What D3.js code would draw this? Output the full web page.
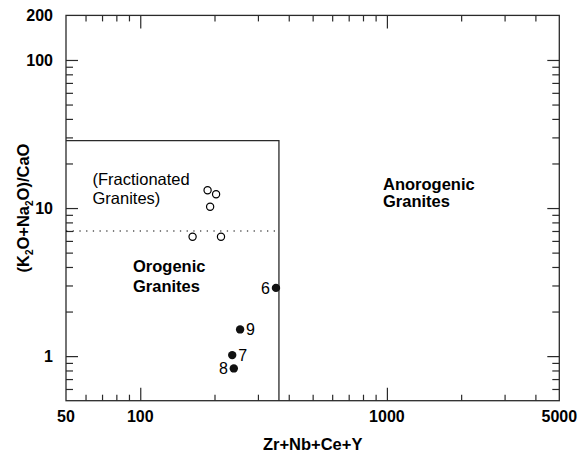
<!DOCTYPE html>
<html>
<head>
<meta charset="utf-8">
<script src="https://cdn.jsdelivr.net/npm/d3@7"></script>
<style>
  html, body { margin: 0; padding: 0; background: #fff; }
  svg text { font-family: "Liberation Sans", Arial, Helvetica, sans-serif; fill: #000; }
</style>
</head>
<body>
<svg id="chart" width="581" height="453"></svg>
<script>
// ---- data ----
const fractionatedX = [187.5, 203, 192, 163, 212.5];
const fractionatedY = [13.2, 12.4, 10.2, 6.4, 6.4];
const sampleX = [355, 254, 236, 239.5];
const sampleY = [2.89, 1.515, 1.016, 0.826];
const sampleLabels = ["6", "9", "7", "8"];
const xTickLabels = [50, 100, 1000, 5000];
const yTickLabels = [1, 10, 100, 200];
const xMajorTicks = [100, 1000];
const xMinorTicks = [60, 70, 80, 90, 200, 300, 400, 500, 600, 700, 800, 900, 2000, 3000, 4000];
const yMajorTicks = [1, 10, 100];
const yMinorTicks = [0.6, 0.7, 0.8, 0.9, 2, 3, 4, 5, 6, 7, 8, 9, 20, 30, 40, 50, 60, 70, 80, 90];
const orogenicBoundaryX = 365;   // Zr+Nb+Ce+Y
const orogenicBoundaryY = 28.5;  // (K2O+Na2O)/CaO
const fractionatedBoundaryY = 7.0;

// ---- layout ----
const svg = d3.select("#chart");
const L = 66, R = 559.3, T = 15.4, B = 400.7;
const x = d3.scaleLog().domain([50, 5000]).range([L, R]);
const y = d3.scaleLog().domain([0.5, 200]).range([B, T]);
const lineColor = "#2a2a2a";

// axes via d3 axis generators (ticks inward)
function addAxis(gen, transform) {
  const g = svg.append("g").attr("transform", transform).call(gen);
  g.select(".domain").remove();
  g.selectAll(".tick line").attr("stroke", lineColor).attr("stroke-width", 1.2);
  g.selectAll(".tick text").remove();
  return g;
}
addAxis(d3.axisBottom(x).tickValues(xMinorTicks).tickSize(-6), `translate(0,${B})`);
addAxis(d3.axisBottom(x).tickValues(xMajorTicks).tickSize(-13), `translate(0,${B})`);
addAxis(d3.axisTop(x).tickValues(xMinorTicks).tickSize(-6), `translate(0,${T})`);
addAxis(d3.axisTop(x).tickValues(xMajorTicks).tickSize(-13), `translate(0,${T})`);
addAxis(d3.axisLeft(y).tickValues(yMinorTicks).tickSize(-7), `translate(${L},0)`);
addAxis(d3.axisLeft(y).tickValues(yMajorTicks).tickSize(-12), `translate(${L},0)`);
addAxis(d3.axisRight(y).tickValues(yMinorTicks).tickSize(-7), `translate(${R},0)`);
addAxis(d3.axisRight(y).tickValues(yMajorTicks).tickSize(-12), `translate(${R},0)`);

// frame
svg.append("rect")
  .attr("x", L).attr("y", T).attr("width", R - L).attr("height", B - T)
  .attr("fill", "none").attr("stroke", lineColor).attr("stroke-width", 1.3);

// tick labels
svg.append("g").selectAll("text").data(xTickLabels).join("text")
  .attr("x", d => x(d)).attr("y", 422)
  .attr("text-anchor", "middle").attr("font-size", 16).attr("font-weight", "bold")
  .text(d => d);
svg.append("g").selectAll("text").data(yTickLabels).join("text")
  .attr("x", 53).attr("y", d => y(d) + 5.8)
  .attr("text-anchor", "end").attr("font-size", 16).attr("font-weight", "bold")
  .text(d => d);

// axis titles
svg.append("text")
  .attr("x", (L + R) / 2).attr("y", 450)
  .attr("text-anchor", "middle").attr("font-size", 16.5).attr("font-weight", "bold")
  .text("Zr+Nb+Ce+Y");
const yt = svg.append("text")
  .attr("transform", `translate(29,${(T + B) / 2}) rotate(-90)`)
  .attr("text-anchor", "middle").attr("font-size", 16.5).attr("font-weight", "bold");
yt.append("tspan").text("(K");
yt.append("tspan").attr("font-size", 10).attr("dy", 4).text("2");
yt.append("tspan").attr("dy", -4).text("O+Na");
yt.append("tspan").attr("font-size", 10).attr("dy", 4).text("2");
yt.append("tspan").attr("dy", -4).text("O)/CaO");

// field boundaries
svg.append("path")
  .attr("d", d3.line()([[x(50), y(orogenicBoundaryY)], [x(orogenicBoundaryX), y(orogenicBoundaryY)], [x(orogenicBoundaryX), y(0.5)]]))
  .attr("fill", "none").attr("stroke", lineColor).attr("stroke-width", 1.3);
svg.append("line")
  .attr("x1", x(50)).attr("x2", x(orogenicBoundaryX))
  .attr("y1", y(fractionatedBoundaryY)).attr("y2", y(fractionatedBoundaryY))
  .attr("stroke", "#000").attr("stroke-width", 1.2).attr("stroke-dasharray", "1.3,5.4");

// field labels
function label(lines, x0, y0, bold, size, gap) {
  const t = svg.append("text").attr("x", x0).attr("y", y0).attr("font-size", size)
    .attr("font-weight", bold ? "bold" : "normal");
  lines.forEach((s, i) => t.append("tspan").attr("x", x0).attr("dy", i ? gap : 0).text(s));
}
label(["(Fractionated", "Granites)"], 92.5, 185, false, 16.5, 18.5);
label(["Orogenic", "Granites"], 133, 272, true, 16.5, 19.5);
label(["Anorogenic", "Granites"], 383, 190, true, 16.5, 17);

// points
svg.append("g").selectAll("circle").data(fractionatedX.map((d, i) => [d, fractionatedY[i]])).join("circle")
  .attr("cx", d => x(d[0])).attr("cy", d => y(d[1])).attr("r", 3.6)
  .attr("fill", "#fff").attr("stroke", "#000").attr("stroke-width", 1.2);
const samples = sampleX.map((d, i) => ({ x: d, y: sampleY[i], label: sampleLabels[i] }));
svg.append("g").selectAll("circle").data(samples).join("circle")
  .attr("cx", d => x(d.x)).attr("cy", d => y(d.y)).attr("r", 4.2).attr("fill", "#111");
const leftSide = new Set(["6", "8"]);
svg.append("g").selectAll("text").data(samples).join("text")
  .attr("x", d => x(d.x) + (leftSide.has(d.label) ? -6 : 6))
  .attr("y", d => y(d.y) + 6)
  .attr("text-anchor", d => leftSide.has(d.label) ? "end" : "start")
  .attr("font-size", 16)
  .text(d => d.label);
</script>
</body>
</html>
